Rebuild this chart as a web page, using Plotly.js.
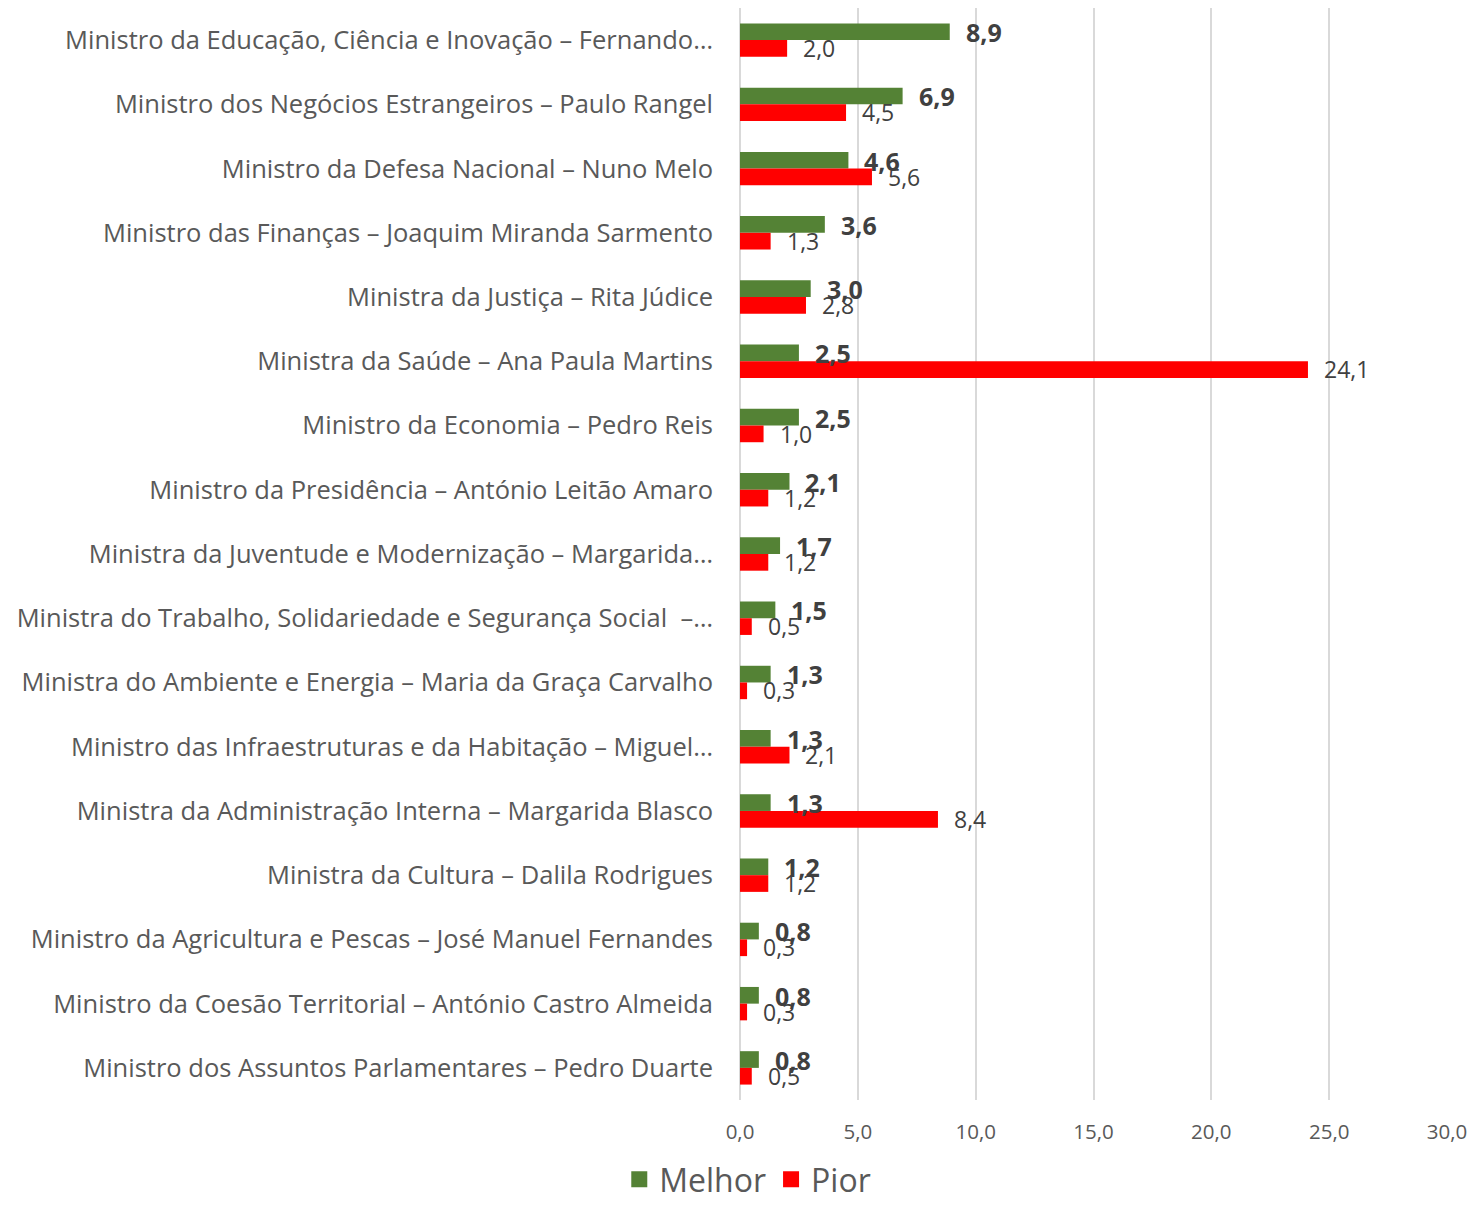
<!DOCTYPE html>
<html><head><meta charset="utf-8">
<script src="https://cdn.plot.ly/plotly-3.0.1.min.js"></script>
<style>html,body{margin:0;padding:0;background:#fff}#chart{width:1472px;height:1207px}</style>
</head><body><div id="chart"></div>
<script>
const categories = [
  "Ministro da Educação, Ciência e Inovação – Fernando…",
  "Ministro dos Negócios Estrangeiros – Paulo Rangel",
  "Ministro da Defesa Nacional – Nuno Melo",
  "Ministro das Finanças – Joaquim Miranda Sarmento",
  "Ministra da Justiça – Rita Júdice",
  "Ministra da Saúde – Ana Paula Martins",
  "Ministro da Economia – Pedro Reis",
  "Ministro da Presidência – António Leitão Amaro",
  "Ministra da Juventude e Modernização – Margarida…",
  "Ministra do Trabalho, Solidariedade e Segurança Social  –…",
  "Ministra do Ambiente e Energia – Maria da Graça Carvalho",
  "Ministro das Infraestruturas e da Habitação – Miguel…",
  "Ministra da Administração Interna – Margarida Blasco",
  "Ministra da Cultura – Dalila Rodrigues",
  "Ministro da Agricultura e Pescas – José Manuel Fernandes",
  "Ministro da Coesão Territorial – António Castro Almeida",
  "Ministro dos Assuntos Parlamentares – Pedro Duarte"
];
const melhor = [8.9, 6.9, 4.6, 3.6, 3.0, 2.5, 2.5, 2.1, 1.7, 1.5, 1.3, 1.3, 1.3, 1.2, 0.8, 0.8, 0.8];
const pior   = [2.0, 4.5, 5.6, 1.3, 2.8, 24.1, 1.0, 1.2, 1.2, 0.5, 0.3, 2.1, 8.4, 1.2, 0.3, 0.3, 0.5];
const tickVals = [0, 5, 10, 15, 20, 25, 30];
const seriesNames = ["Melhor", "Pior"];
const seriesColors = ["#548235", "#FF0000"];

const fmt = v => v.toFixed(1).replace('.', ',');
const FONT = "Open Sans, sans-serif";

const traces = [
  {type:'bar', orientation:'h', name:seriesNames[0], y:categories, x:melhor,
   marker:{color:seriesColors[0]}, showlegend:false},
  {type:'bar', orientation:'h', name:seriesNames[1], y:categories, x:pior,
   marker:{color:seriesColors[1]}, showlegend:false}
];
// legend-only entries with larger square swatches
seriesNames.forEach((n, k) => {
  traces.push({type:'scatter', mode:'markers', name:n, x:[null], y:[null],
    marker:{symbol:'square', size:21, color:seriesColors[k]}, showlegend:true});
});

const annotations = [];
categories.forEach((c, i) => {
  annotations.push({x: melhor[i], y: c, xref:'x', yref:'y', text: '<b>' + fmt(melhor[i]) + '</b>',
    showarrow:false, xanchor:'left', yanchor:'middle', xshift:14, yshift:8,
    font:{family:FONT, size:25, color:'#404040'}});
  annotations.push({x: pior[i], y: c, xref:'x', yref:'y', text: fmt(pior[i]),
    showarrow:false, xanchor:'left', yanchor:'middle', xshift:14, yshift:-8,
    font:{family:FONT, size:23, color:'#404040'}});
});

const layout = {
  width:1472, height:1207,
  margin:{l:740, r:25, t:8, b:107, autoexpand:false},
  paper_bgcolor:'#fff', plot_bgcolor:'#fff',
  barmode:'group', bargap:0.48, bargroupgap:0,
  font:{family:FONT, color:'#595959'},
  xaxis:{range:[0,30], tickvals:tickVals, ticktext:tickVals.map(fmt),
    showgrid:true, gridcolor:'#d9d9d9', gridwidth:2, zeroline:true, zerolinecolor:'#d9d9d9', zerolinewidth:2,
    showline:false, ticks:'', tickfont:{family:FONT, size:20.5, color:'#595959'}, ticklabelstandoff:17, fixedrange:true},
  yaxis:{type:'category', autorange:'reversed', showgrid:false, zeroline:false, showline:false, ticks:'',
    tickfont:{family:FONT, size:25.5, color:'#595959'}, ticklabelstandoff:26, fixedrange:true},
  showlegend:true,
  legend:{orientation:'h', x:0.508, xref:'container', xanchor:'center', y:-0.006, yref:'container', yanchor:'bottom',
    font:{family:FONT, size:32, color:'#595959'}, itemwidth:30, traceorder:'normal'},
  annotations: annotations
};

Plotly.newPlot('chart', traces, layout, {displayModeBar:false, staticPlot:true});
</script></body></html>
